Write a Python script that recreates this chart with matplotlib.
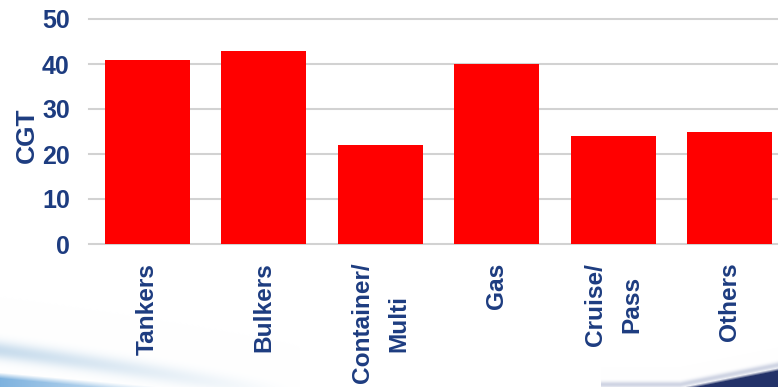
import numpy as np
import matplotlib
matplotlib.use("Agg")
import matplotlib.pyplot as plt

# Fleet segments and values (CGT)
categories = ["Tankers", "Bulkers", "Container/\nMulti", "Gas", "Cruise/\nPass", "Others"]
cgt_values = [41, 43, 22, 40, 24, 25]
y_ticks = [0, 10, 20, 30, 40, 50]

NAVY = "#1d3c80"
BAR_RED = "#ff0000"
GRID = "#d2d2d2"

W, H = 778, 387
fig = plt.figure(figsize=(W / 100, H / 100), dpi=100)
fig.patch.set_facecolor("white")

# --- decorative swooshes along the bottom edge ---
bg = fig.add_axes([0, 0, 1, 1], zorder=-5)
bg.set_axis_off()
xx, yy = np.meshgrid(np.arange(W), np.arange(H))
img = np.ones((H, W, 3))

def blend(img, mask, color):
    c = np.array(color) / 255.0
    m = np.clip(mask, 0, 1)[..., None]
    return img * (1 - m) + c * m

# left: pale blue streak fading to the right
yc1 = 350 + 0.13 * xx + 0.00008 * xx ** 2
fade1 = np.clip(1 - xx / 300.0, 0, 1)
img = blend(img, 0.6 * np.exp(-((yy - yc1) / 9.0) ** 2) * fade1, (165, 198, 225))
# left: stronger blue band near the bottom corner
yc2 = 372 + 0.09 * xx
fade2 = np.clip(1 - xx / 230.0, 0, 1)
img = blend(img, 0.8 * np.clip((yy - yc2) / 6.0, 0, 1) * fade2, (95, 160, 215))
# right: dark navy wedge rising to the corner
yc3 = H - np.clip(xx - 680, 0, None) * 0.2
img = blend(img, 0.5 * np.exp(-((yy - (yc3 - 3)) / 3.0) ** 2) * (xx > 600), (160, 170, 200))
img = blend(img, np.clip((yy - yc3) / 3.0, 0, 1) * (xx > 680), (35, 50, 105))
bg.imshow(img, extent=(0, W, H, 0), aspect="auto", interpolation="bilinear")
bg.set_xlim(0, W)
bg.set_ylim(H, 0)

# --- bar chart ---
left_px, right_px, top_px, bottom_px = 89.25, 788.0, 19.0, 244.0
ax = fig.add_axes([left_px / W, (H - bottom_px) / H,
                   (right_px - left_px) / W, (bottom_px - top_px) / H])
ax.set_facecolor("none")

x = np.arange(len(categories))
ax.bar(x, cgt_values, width=0.73, color=BAR_RED, zorder=3)

ax.set_xlim(-0.5, len(categories) - 0.5)
ax.set_ylim(0, 50)
ax.set_yticks(y_ticks)
ax.set_yticklabels([str(v) for v in y_ticks], fontsize=18, fontweight="bold",
                   color=NAVY, family="Liberation Sans")
ax.set_xticks(x)
ax.set_xticklabels(categories, rotation=90, fontsize=17.6, fontweight="bold",
                   color=NAVY, family="Liberation Sans", ha="right", va="center",
                   rotation_mode="anchor", multialignment="center",
                   linespacing=1.75)
ax.tick_params(axis="y", length=0, pad=14)
ax.tick_params(axis="x", length=0, pad=13.5)

ax.yaxis.grid(True, color=GRID, linewidth=1.5, zorder=0)
for gl in ax.get_ygridlines():
    gl.set_clip_on(False)
ax.set_axisbelow(True)
for s in ax.spines.values():
    s.set_visible(False)

ax.set_ylabel("CGT", fontsize=19, fontweight="bold", color=NAVY,
              family="Liberation Sans")
ax.yaxis.set_label_coords(-0.072, 0.484)

fig.savefig("out.png", dpi=100, facecolor="white")
